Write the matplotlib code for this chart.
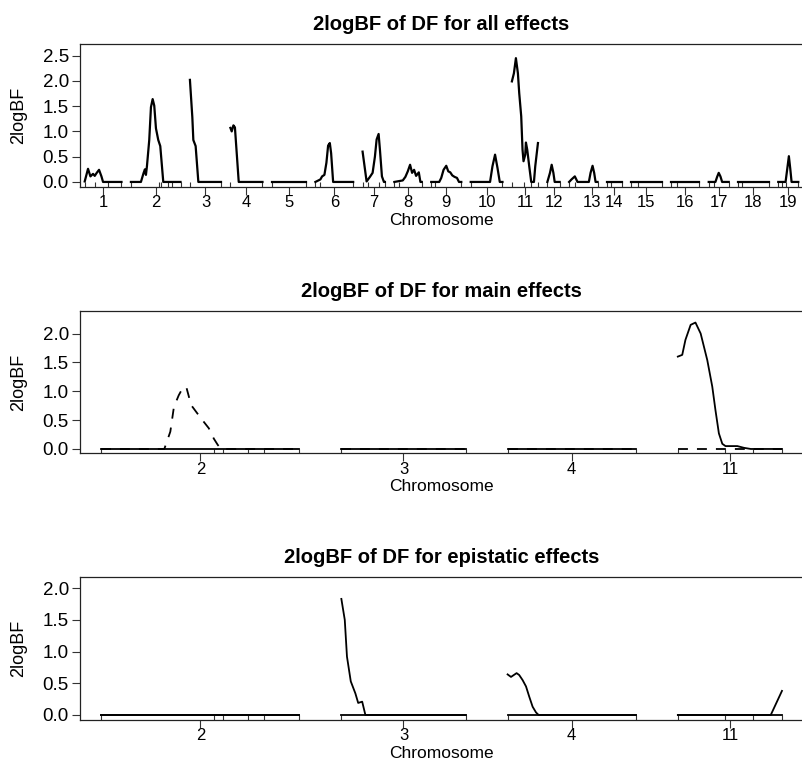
import numpy as np
import matplotlib
matplotlib.use("Agg")
import matplotlib.pyplot as plt

plt.rcParams['font.family'] = ['Liberation Sans', 'DejaVu Sans']

# chromosome lengths (cM, same scale in every panel)
chrom_names = ['1', '2', '3', '4', '5', '6', '7', '8', '9', '10',
               '11', '12', '13', '14', '15', '16', '17', '18', '19']
chrom_len = [36.7, 49.5, 31, 32, 34, 37.7, 22.3, 27.4, 30, 31.7,
             26, 12.3, 28.4, 14.6, 30.7, 28, 20, 30.6, 20]
# where the chromosome label sits within each chromosome
chrom_lab = [18.4, 24.8, 15.5, 16, 17, 18.9, 11.2, 13.7, 15, 15.9,
             13, 6.2, 22.4, 7.3, 15.4, 14, 10, 15.3, 10]

# marker positions (rug) within each chromosome
markers = [[0, 10.7, 23.3, 36.7], [0, 28.2, 30.4, 36.8, 40.7, 49.5], [0, 31], [0, 32],
           [0, 34], [0, 5, 37.7], [0, 5.7, 16.7, 22.3], [0, 5, 27.4], [0, 3.3, 30],
           [0, 31.7], [0, 11.9, 18.8, 26], [0, 12.3], [0, 5.7, 28.4], [0, 4, 14.6],
           [0, 7.3, 30.7], [0, 5.7, 28], [0, 5, 20], [0, 4, 30.6], [0, 4, 7.3, 20]]

# 2logBF, all effects (position within chromosome, value)
all_pos = [
    [0, 3.3, 5.7, 8.3, 10, 12, 14.3, 16.7, 18.3, 36.7],
    [0, 10, 12.7, 14, 15, 16, 18.3, 20, 21.7, 23.3, 25, 27.3, 29.3, 32.3, 49.5],
    [0, 2.4, 3.4, 5.7, 8.4, 31],
    [0, 1.3, 3, 4.5, 8.3, 32],
    [0, 34],
    [0, 5, 6.7, 9, 11, 12.7, 14.4, 15.7, 17.7, 37.7],
    [0, 4, 7.3, 10, 12.3, 14, 16, 17.3, 19.3, 21.3, 22.3],
    [0, 8.4, 11, 13.4, 15.7, 17.7, 19.7, 21.7, 24.4, 26, 27.4],
    [0, 8, 10, 12.3, 15, 17, 19, 21, 23.3, 25.7, 27.7, 30],
    [0, 19.3, 21.7, 24.3, 26.7, 29, 31.7],
    [0, 2, 4, 6, 7.3, 9.3, 10.6, 11.6, 13.3, 14, 15.3, 17.3, 19.3, 22, 23.3, 26],
    [0, 2.6, 4.3, 6, 7.3, 12.3],
    [0, 2.4, 5.7, 8.4, 19.7, 21.4, 23.4, 25, 26.4, 28.4],
    [0, 14.6],
    [0, 30.7],
    [0, 28],
    [0, 6.7, 8.4, 10, 11.7, 13.4, 20],
    [0, 30.6],
    [0, 7.3, 9, 10.6, 12, 13.3, 20],
]
all_val = [
    [0.01, 0.26, 0.11, 0.16, 0.12, 0.18, 0.24, 0.11, 0, 0],
    [0, 0, 0.18, 0.25, 0.14, 0.31, 0.83, 1.48, 1.64, 1.51, 1.06, 0.83, 0.71, 0, 0],
    [2.02, 1.28, 0.83, 0.71, 0, 0],
    [1.07, 1.0, 1.12, 1.08, 0, 0],
    [0, 0],
    [0, 0.05, 0.11, 0.14, 0.38, 0.72, 0.77, 0.57, 0, 0],
    [0.6, 0.01, 0.1, 0.18, 0.5, 0.84, 0.95, 0.64, 0.11, 0, 0],
    [0, 0.03, 0.1, 0.21, 0.34, 0.18, 0.24, 0.12, 0.19, 0, 0],
    [0, 0, 0.08, 0.24, 0.32, 0.21, 0.19, 0.13, 0.1, 0.08, 0, 0],
    [0, 0, 0.31, 0.54, 0.28, 0, 0],
    [1.99, 2.15, 2.45, 2.15, 1.76, 1.3, 0.64, 0.41, 0.54, 0.78, 0.64, 0.31, 0, 0, 0.31, 0.77],
    [0, 0.18, 0.34, 0.18, 0, 0],
    [0, 0.05, 0.11, 0, 0, 0.18, 0.32, 0.18, 0, 0],
    [0, 0],
    [0, 0],
    [0, 0],
    [0, 0, 0.1, 0.18, 0.11, 0, 0],
    [0, 0],
    [0, 0, 0.26, 0.51, 0.26, 0, 0],
]

# subset of chromosomes for main / epistatic panels
sub_chroms = ['2', '3', '4', '11']

# main effects: solid and dashed curves
main_solid_pos = [[0, 49.5], [0, 31], [0, 32],
                  [0, 1.1, 1.9, 3.2, 4.4, 5.7, 7.35, 8.6, 9.4, 10.25, 11.1, 11.9, 14.85, 16.5, 18.2, 26]]
main_solid_val = [[0, 0], [0, 0], [0, 0],
                  [1.6, 1.63, 1.89, 2.15, 2.19, 2.0, 1.54, 1.08, 0.67, 0.27, 0.09, 0.05, 0.05, 0.02, 0, 0]]
main_dash_pos = [[0, 15.8, 17.3, 18.2, 19.4, 20.5, 21.3, 22.5, 24, 25.65, 26.9, 28.15, 29.15, 30, 49.5],
                 [0, 31], [0, 32], [0, 26]]
main_dash_val = [[0, 0, 0.3, 0.73, 0.93, 1.07, 1.07, 0.76, 0.62, 0.47, 0.36, 0.18, 0.07, 0, 0],
                 [0, 0], [0, 0], [0, 0]]

# epistatic effects
epi_pos = [[0, 49.5],
           [0, 0.85, 1.4, 2.35, 3.5, 4.2, 5.2, 6.0, 31],
           [0, 0.85, 2.25, 2.9, 3.75, 4.6, 5.4, 6.25, 7.1, 7.75, 32],
           [0, 23.2, 26]]
epi_val = [[0, 0],
           [1.83, 1.5, 0.92, 0.53, 0.34, 0.19, 0.21, 0, 0],
           [0.64, 0.6, 0.66, 0.63, 0.55, 0.45, 0.29, 0.13, 0.04, 0, 0],
           [0, 0, 0.38]]


def layout(names, gap):
    starts = []
    cur = 0.0
    for n in names:
        starts.append(cur)
        cur += chrom_len[chrom_names.index(n)] + gap
    return starts, cur - gap


def setup_axes(ax, names, starts, gap, total, ylim, yticks, title):
    ax.set_xlim(-gap / 2, total + gap / 2)
    ax.set_ylim(*ylim)
    mids = [s + chrom_lab[chrom_names.index(n)] for n, s in zip(names, starts)]
    ax.set_xticks(mids)
    ax.set_xticklabels(names)
    ax.set_yticks(yticks)
    ax.set_yticklabels(['%.1f' % t for t in yticks])
    ax.tick_params(axis='both', direction='out', length=5.5, width=0.8,
                   color='#333333')
    ax.tick_params(axis='x', pad=0.5, labelsize=12)
    ax.tick_params(axis='y', pad=2.5, labelsize=13.5)
    ax.spines['right'].set_visible(False)
    for s in ['left', 'top', 'bottom']:
        ax.spines[s].set_linewidth(0.9)
        ax.spines[s].set_color('#222222')
    ax.set_title(title, fontsize=14.5, fontweight='bold', pad=10)
    ax.text(0.5, -0.235, 'Chromosome', transform=ax.transAxes,
            ha='center', va='center', fontsize=12.5)
    ax.text(-0.085, 0.5, '2logBF', transform=ax.transAxes, rotation=90,
            ha='center', va='center', fontsize=13)
    # marker rug for each chromosome
    for n, s in zip(names, starts):
        m = markers[chrom_names.index(n)]
        ax.vlines([s + p for p in m], ylim[0], 0, color='#333333', lw=0.8)


fig = plt.figure(figsize=(8.02, 7.82), dpi=100)
ax1 = fig.add_axes([80 / 802, 1 - 187 / 782, 723 / 802, 143 / 782])
ax2 = fig.add_axes([80 / 802, 1 - 453.3 / 782, 723 / 802, 142.3 / 782])
ax3 = fig.add_axes([80 / 802, 1 - 720 / 782, 723 / 802, 143.3 / 782])

# top panel: all effects
gap_all = 9.4
starts, total = layout(chrom_names, gap_all)
setup_axes(ax1, chrom_names, starts, gap_all, total, (-0.1, 2.73),
           [0, 0.5, 1.0, 1.5, 2.0, 2.5], '2logBF of DF for all effects')
for s, p, v in zip(starts, all_pos, all_val):
    ax1.plot(np.array(p) + s, v, color='black', lw=1.6, solid_joinstyle='round')

# middle panel: main effects
gap_sub = 10.5
starts, total = layout(sub_chroms, gap_sub)
setup_axes(ax2, sub_chroms, starts, gap_sub, total, (-0.075, 2.39),
           [0, 0.5, 1.0, 1.5, 2.0], '2logBF of DF for main effects')
for s, p, v in zip(starts, main_solid_pos, main_solid_val):
    ax2.plot(np.array(p) + s, v, color='black', lw=1.3)
for s, p, v in zip(starts, main_dash_pos, main_dash_val):
    ax2.plot(np.array(p) + s, v, color='black', lw=1.3, dashes=(5.5, 5))

# bottom panel: epistatic effects
setup_axes(ax3, sub_chroms, starts, gap_sub, total, (-0.079, 2.18),
           [0, 0.5, 1.0, 1.5, 2.0], '2logBF of DF for epistatic effects')
for s, p, v in zip(starts, epi_pos, epi_val):
    ax3.plot([s, s + p[-1]], [0, 0], color='black', lw=1.3)
    ax3.plot(np.array(p) + s, v, color='black', lw=1.3)

fig.savefig('out.png', dpi=100)
